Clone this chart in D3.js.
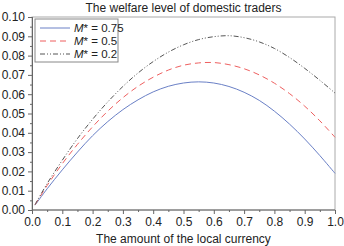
<!DOCTYPE html>
<html><head><meta charset="utf-8">
<script src="https://cdnjs.cloudflare.com/ajax/libs/d3/7.8.5/d3.min.js"></script>
<style>body{margin:0;background:#fff}text{font-family:"Liberation Sans",Arial,sans-serif;fill:#222}</style>
</head><body><svg id="c" width="344" height="246"></svg>
<script>
const xVals = [0.01,0.05,0.10,0.15,0.20,0.25,0.30,0.35,0.40,0.45,0.50,0.55,0.60,0.65,0.70,0.75,0.80,0.85,0.90,0.95,1.00];
const m075 = [0.0025,0.0110,0.0208,0.0300,0.0385,0.0458,0.0520,0.0571,0.0612,0.0641,0.0658,0.0664,0.0658,0.0640,0.0610,0.0568,0.0512,0.0445,0.0368,0.0282,0.0190];
const m05  = [0.0027,0.0127,0.0240,0.0340,0.0431,0.0512,0.0582,0.0641,0.0688,0.0725,0.0750,0.0762,0.0764,0.0753,0.0732,0.0700,0.0657,0.0603,0.0538,0.0462,0.0377];
const m02  = [0.0028,0.0137,0.0258,0.0370,0.0470,0.0560,0.0640,0.0710,0.0769,0.0818,0.0856,0.0883,0.0898,0.0903,0.0893,0.0871,0.0837,0.0790,0.0734,0.0672,0.0606];
const seriesNames = ["0.75","0.5","0.2"];
const yTicks = [0,0.01,0.02,0.03,0.04,0.05,0.06,0.07,0.08,0.09,0.10];
const xTicks = [0,0.1,0.2,0.3,0.4,0.5,0.6,0.7,0.8,0.9,1.0];

const svg = d3.select("#c");
const L=32,R=335,T=17,B=210;
const x = d3.scaleLinear().domain([0,1]).range([L,R]);
const y = d3.scaleLinear().domain([0,0.1]).range([B,T]);

svg.append("rect").attr("x",L).attr("y",T).attr("width",R-L).attr("height",B-T)
  .attr("fill","none").attr("stroke","#aaa").attr("stroke-width",1);

const fmt2 = d3.format(".2f"), fmt1 = d3.format(".1f");
const ya = svg.append("g").attr("transform",`translate(${L},0)`)
  .call(d3.axisLeft(y).tickValues(yTicks).tickFormat(fmt2).tickSize(4).tickPadding(3));
const yminor = svg.append("g").attr("transform",`translate(${L},0)`)
  .call(d3.axisLeft(y).tickValues(d3.range(0.005,0.1,0.01)).tickFormat("").tickSize(2));
const xa = svg.append("g").attr("transform",`translate(0,${B})`)
  .call(d3.axisBottom(x).tickValues(xTicks).tickFormat(fmt1).tickSize(4).tickPadding(3));
const xminor = svg.append("g").attr("transform",`translate(0,${B})`)
  .call(d3.axisBottom(x).tickValues(d3.range(0.05,1,0.1)).tickFormat("").tickSize(2));
[ya,yminor,xa,xminor].forEach(g=>{
  g.selectAll("path").attr("stroke","#666");
  g.selectAll("line").attr("stroke","#666");
  g.selectAll("text").style("font-size","12px").attr("fill","#222");
});
xa.select(".domain").remove(); xminor.select(".domain").remove();
svg.append("line").attr("x1",L).attr("x2",R).attr("y1",B).attr("y2",B).attr("stroke","#666");

const series = [
  {name:seriesNames[0], vals:m075, color:"#6a80c6", dash:null},
  {name:seriesNames[1], vals:m05, color:"#ee5f5f", dash:"6,4"},
  {name:seriesNames[2], vals:m02, color:"#555", dash:"5,2,1,2,1,2"}
];
const line = d3.line().x((d,i)=>x(xVals[i])).y(d=>y(d)).curve(d3.curveCatmullRom);
series.forEach(s=>{
  svg.append("path").datum(s.vals).attr("d",line).attr("fill","none")
    .attr("stroke",s.color).attr("stroke-width",1).attr("stroke-dasharray",s.dash);
});

const lg = svg.append("g");
lg.append("rect").attr("x",35).attr("y",19).attr("width",83).attr("height",43)
  .attr("fill","#fff").attr("stroke","#888");
series.forEach((s,i)=>{
  const yy = 28 + i*13;
  lg.append("line").attr("x1",40).attr("x2",70).attr("y1",yy).attr("y2",yy)
    .attr("stroke",s.color).attr("stroke-dasharray",s.dash);
  const t = lg.append("text").attr("x",74).attr("y",yy+4).style("font-size","11.5px");
  t.append("tspan").style("font-style","italic").text("M");
  t.append("tspan").text("* = "+s.name);
});

svg.append("text").attr("x",(L+R)/2).attr("y",12).attr("text-anchor","middle")
  .style("font-size","12px").text("The welfare level of domestic traders");
svg.append("text").attr("x",(L+R)/2).attr("y",243).attr("text-anchor","middle")
  .style("font-size","12px").text("The amount of the local currency");
</script></body></html>
